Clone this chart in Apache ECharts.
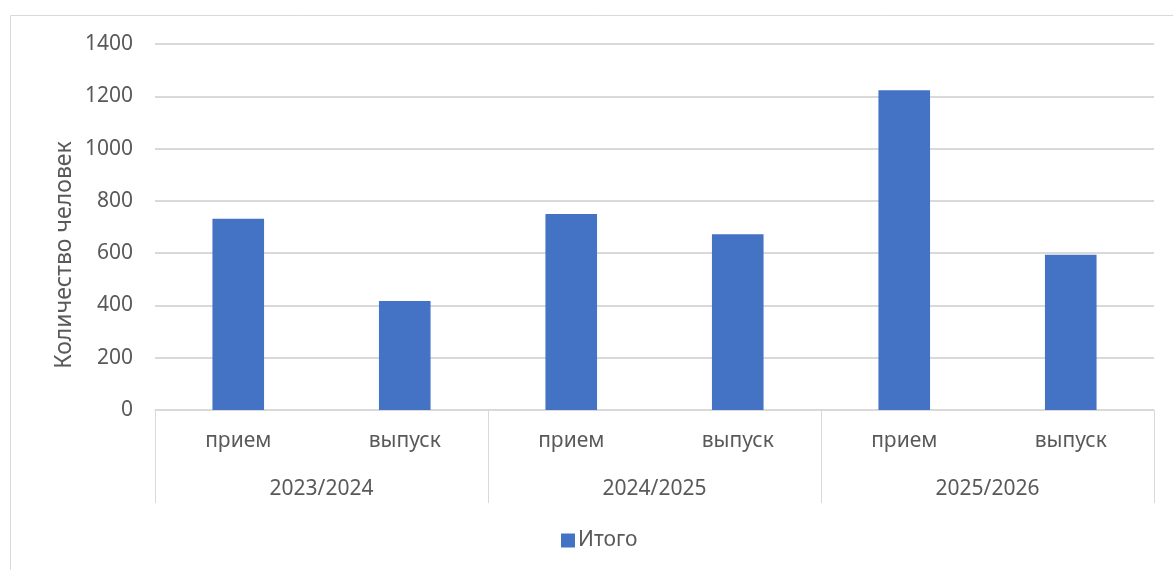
<!DOCTYPE html>
<html>
<head>
<meta charset="utf-8">
<script src="https://cdn.jsdelivr.net/npm/echarts@6/dist/echarts.min.js"></script>
<style>
  html, body { margin: 0; padding: 0; background: #fff; }
  #chart { width: 1173px; height: 570px; }
</style>
</head>
<body>
<div id="chart"></div>
<script>
var kinds = ['прием', 'выпуск', 'прием', 'выпуск', 'прием', 'выпуск'];
var years = ['2023/2024', '2024/2025', '2025/2026'];
var totals = [732, 417, 750, 672, 1223, 594];
var yTicks = [0, 200, 400, 600, 800, 1000, 1200, 1400];

var font = 'Noto Sans';
var textColor = '#595959';
var lineColor = '#D9D9D9';

var chart = echarts.init(document.getElementById('chart'));
chart.setOption({
  animation: false,
  textStyle: { fontFamily: font },
  graphic: [
    {
      type: 'rect',
      shape: { x: 10.5, y: 15.5, width: 1200, height: 600 },
      style: { fill: 'none', stroke: lineColor, lineWidth: 1 }
    },
    {
      type: 'text',
      x: 64, y: 255,
      rotation: Math.PI / 2,
      style: {
        text: 'Количество человек',
        fill: textColor,
        font: '23px "Noto Sans"',
        align: 'center',
        verticalAlign: 'middle'
      }
    }
  ],
  grid: { left: 155, right: 19, top: 44, bottom: 160 },
  legend: {
    bottom: 14,
    left: 556,
    itemWidth: 14,
    itemHeight: 14,
    itemGap: 4,
    icon: 'rect',
    textStyle: { color: textColor, fontSize: 21, fontFamily: font, padding: [0, 0, 0, -2] },
    data: ['Итого']
  },
  xAxis: [
    {
      type: 'category',
      data: kinds,
      axisLine: { lineStyle: { color: lineColor, width: 1 } },
      axisTick: { show: false },
      axisLabel: { color: textColor, fontSize: 21, margin: 21 }
    },
    {
      type: 'category',
      data: years,
      position: 'bottom',
      axisLine: { show: false },
      axisTick: { show: true, length: 93, lineStyle: { color: lineColor } },
      axisLabel: { color: textColor, fontSize: 21, margin: 69 }
    }
  ],
  yAxis: {
    type: 'value',
    min: yTicks[0],
    max: yTicks[yTicks.length - 1],
    interval: 200,
    axisLine: { show: false },
    axisTick: { show: false },
    axisLabel: {
      color: textColor,
      fontSize: 21,
      margin: 22,
      formatter: function (v) { return String(v); }
    },
    splitLine: { lineStyle: { color: lineColor, width: 2 } }
  },
  series: [
    {
      name: 'Итого',
      type: 'bar',
      xAxisIndex: 0,
      data: totals,
      barWidth: '31%',
      itemStyle: { color: '#4472C4' }
    }
  ]
});
</script>
</body>
</html>
